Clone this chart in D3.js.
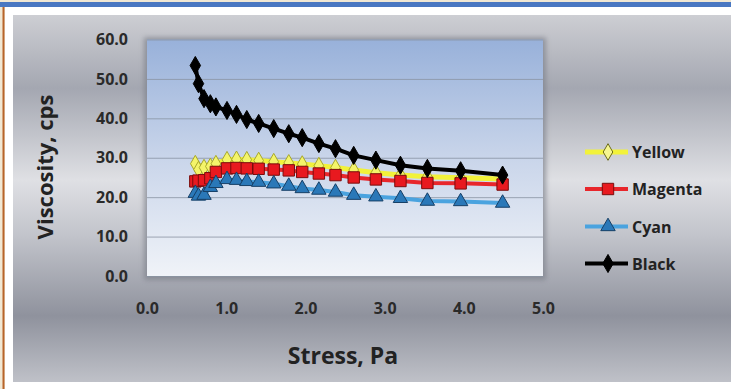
<!DOCTYPE html>
<html>
<head>
<meta charset="utf-8">
<script src="https://cdn.jsdelivr.net/npm/d3@7"></script>
<style>
  html, body { margin: 0; padding: 0; background: #f1e8d4; }
  svg { display: block; }
  text { font-family: "Open Sans", sans-serif; font-weight: bold; }
</style>
</head>
<body>
<svg id="chart" width="731" height="389"></svg>
<script>
// shared stress values (Pa)
var stress = [0.61, 0.65, 0.72, 0.80, 0.87, 1.01, 1.13, 1.26, 1.41, 1.60, 1.79, 1.96, 2.17, 2.38, 2.61, 2.89, 3.20, 3.54, 3.96, 4.49];

var yellow  = [28.5, 27.0, 27.5, 27.8, 28.5, 29.5, 29.6, 29.5, 29.3, 29.0, 28.7, 28.4, 28.0, 27.5, 26.9, 26.2, 25.6, 25.2, 24.9, 24.6];
var magenta = [24.0, 24.2, 24.3, 24.8, 26.4, 27.3, 27.4, 27.3, 27.2, 27.0, 26.8, 26.4, 26.0, 25.6, 25.0, 24.5, 24.1, 23.6, 23.5, 23.2];
var cyan    = [21.0, 20.3, 20.5, 22.5, 23.5, 24.5, 24.3, 24.0, 23.8, 23.4, 22.8, 22.2, 21.8, 21.3, 20.5, 20.1, 19.7, 19.0, 18.9, 18.5];
var black   = [53.4, 48.8, 45.0, 43.7, 42.9, 42.0, 41.0, 39.7, 38.7, 37.4, 36.1, 35.1, 33.6, 32.3, 30.6, 29.4, 28.1, 27.3, 26.7, 25.6];

var seriesNames = ["Yellow", "Magenta", "Cyan", "Black"];
var xTicks = [0, 1, 2, 3, 4, 5];
var yTicks = [0, 10, 20, 30, 40, 50, 60];

var series = [
  {name: "Yellow",  values: yellow,  line: "#f2f23a", fill: "#f4f46a", stroke: "#a8a82a", shape: d3.symbolDiamond,  size: 80,  lw: 5},
  {name: "Magenta", values: magenta, line: "#e8262b", fill: "#e8191f", stroke: "#7a0c0c", shape: d3.symbolSquare,   size: 130, lw: 4},
  {name: "Cyan",    values: cyan,    line: "#4aa3df", fill: "#2a78b8", stroke: "#163f66", shape: d3.symbolTriangle, size: 90,  lw: 4},
  {name: "Black",   values: black,   line: "#000000", fill: "#000000", stroke: "#000000", shape: d3.symbolDiamond,  size: 95,  lw: 4}
];

var svg = d3.select("#chart");
var defs = svg.append("defs");

// page frame
svg.append("rect").attr("x", 0).attr("y", 0).attr("width", 731).attr("height", 389).attr("fill", "#f1e8d4");
svg.append("rect").attr("x", 0).attr("y", 2).attr("width", 731).attr("height", 5).attr("fill", "#4a78c2");
svg.append("rect").attr("x", 5).attr("y", 7).attr("width", 726).attr("height", 382).attr("fill", "#ffffff");
svg.append("rect").attr("x", 2.5).attr("y", 7).attr("width", 2).attr("height", 382).attr("fill", "#b8642a");

// grey chart background
var bg = defs.append("linearGradient").attr("id", "bg").attr("x1", 0).attr("y1", 0).attr("x2", 0).attr("y2", 1);
[[0, "#cdced3"], [0.2, "#a4a7b1"], [0.45, "#dfe0e4"], [0.6, "#c2c4cb"], [0.82, "#8f929d"], [1, "#bfc1c8"]].forEach(function(s){
  bg.append("stop").attr("offset", s[0]).attr("stop-color", s[1]);
});
svg.append("rect").attr("x", 13).attr("y", 15).attr("width", 718).attr("height", 367).attr("fill", "url(#bg)");

var margin = {left: 147, right: 543, top: 39.5, bottom: 276};
var x = d3.scaleLinear().domain([0, 5]).range([margin.left, margin.right]);
var y = d3.scaleLinear().domain([0, 60]).range([margin.bottom, margin.top]);

// plot area with shadow
var blur = defs.append("filter").attr("id", "shadow").attr("x", -0.1).attr("y", -0.1).attr("width", 1.2).attr("height", 1.2);
blur.append("feGaussianBlur").attr("stdDeviation", 2.5);
svg.append("rect")
  .attr("x", x(0) - 3).attr("y", y(60) - 2)
  .attr("width", x(5) - x(0) + 6).attr("height", y(0) - y(60) + 6)
  .attr("fill", "#7d808a").attr("opacity", 0.7).attr("filter", "url(#shadow)");

var pa = defs.append("linearGradient").attr("id", "pa").attr("x1", 0).attr("y1", 0).attr("x2", 0).attr("y2", 1);
[[0, "#98b1da"], [0.5, "#c9d5ea"], [1, "#f0f3f8"]].forEach(function(s){
  pa.append("stop").attr("offset", s[0]).attr("stop-color", s[1]);
});
svg.append("rect")
  .attr("x", x(0)).attr("y", y(60))
  .attr("width", x(5) - x(0)).attr("height", y(0) - y(60))
  .attr("fill", "url(#pa)");

// gridlines
var yAxis = d3.axisLeft(y).tickValues(yTicks).tickSize(-(x(5) - x(0))).tickFormat(d3.format(".1f")).tickPadding(19);
var gy = svg.append("g").attr("transform", "translate(" + x(0) + ",0)").call(yAxis);
gy.select(".domain").remove();
gy.selectAll(".tick line").attr("stroke", "#8a93a3").attr("stroke-width", 1).attr("opacity", 0.8);
gy.selectAll(".tick text").attr("fill", "#2a2a2a").style("font-size", "16px").style("font-family", "'Open Sans', sans-serif").style("font-weight", "bold");

var xAxis = d3.axisBottom(x).tickValues(xTicks).tickSize(0).tickFormat(d3.format(".1f")).tickPadding(27);
var gx = svg.append("g").attr("transform", "translate(0," + y(0) + ")").call(xAxis);
gx.select(".domain").remove();
gx.selectAll(".tick text").attr("fill", "#2a2a2a").style("font-size", "16px").style("font-family", "'Open Sans', sans-serif").style("font-weight", "bold");

// series lines + markers
var line = d3.line().x(function(d){ return x(d[0]); }).y(function(d){ return y(d[1]); });
series.forEach(function(s){
  var pts = stress.map(function(v, i){ return [v, s.values[i]]; });
  svg.append("path").datum(pts)
    .attr("d", line).attr("fill", "none")
    .attr("stroke", s.line).attr("stroke-width", s.lw).attr("stroke-linejoin", "round");
  svg.append("g").selectAll("path").data(pts).enter().append("path")
    .attr("d", d3.symbol().type(s.shape).size(s.size))
    .attr("transform", function(d){ return "translate(" + x(d[0]) + "," + y(d[1]) + ")"; })
    .attr("fill", s.fill).attr("stroke", s.stroke).attr("stroke-width", 1);
});

// axis titles
svg.append("text").attr("x", 343).attr("y", 364).attr("text-anchor", "middle")
  .style("font-size", "23px").attr("fill", "#222").text("Stress, Pa");
svg.append("text").attr("transform", "translate(53,167) rotate(-90)").attr("text-anchor", "middle")
  .style("font-size", "22px").attr("fill", "#222").text("Viscosity, cps");

// legend
var legY = [152, 189, 226.5, 263.5];
var leg = svg.append("g");
series.forEach(function(s, i){
  var g = leg.append("g").attr("transform", "translate(0," + legY[i] + ")");
  g.append("line").attr("x1", 585).attr("x2", 628).attr("y1", 0).attr("y2", 0)
    .attr("stroke", s.line).attr("stroke-width", s.lw);
  g.append("path").attr("d", d3.symbol().type(s.shape).size(s.size))
    .attr("transform", "translate(608,0)")
    .attr("fill", s.name == "Yellow" ? "#f6f690" : s.fill).attr("stroke", s.name == "Yellow" ? "#6b6b1a" : s.stroke).attr("stroke-width", 1);
  g.append("text").attr("x", 632).attr("y", 6).style("font-size", "16px").attr("fill", "#222").text(seriesNames[i]);
});
</script>
</body>
</html>
